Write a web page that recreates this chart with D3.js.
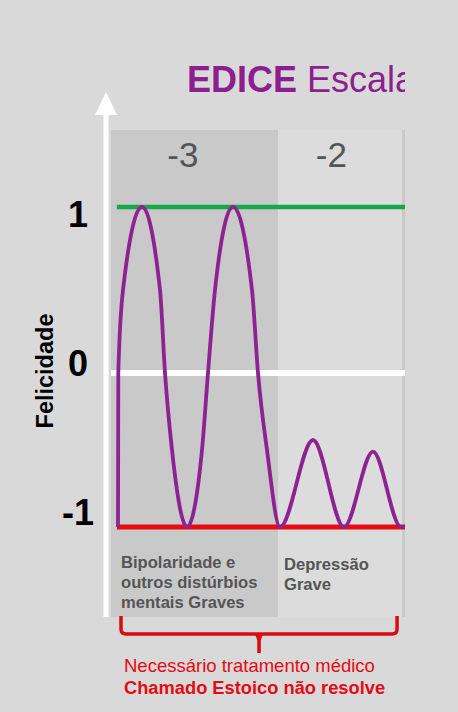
<!DOCTYPE html>
<html>
<head>
<meta charset="utf-8">
<script src="https://cdn.jsdelivr.net/npm/d3@7"></script>
<style>
html,body{margin:0;padding:0;background:#d9d9d9;}
svg{display:block;}
text{font-family:"Liberation Sans",Arial,Helvetica,sans-serif;}
</style>
</head>
<body>
<svg id="chart" width="458" height="712"></svg>
<script>
// ---- data ----
const regionNames = ["-3", "-2", "-1"];
const regionStart = [0, 5.68, 9.9];
const regionEnd = [5.68, 9.9, 12];
const regionLabels = [["Bipolaridade e", "outros distúrbios", "mentais Graves"], ["Depressão", "Grave"], []];
const yTicks = [1, 0, -1];
const levelValues = [1, 0, -1];
const levelStart = [0.2, 0, 0.2];
const waveT = [0.238, 0.248, 0.408, 1.054, 1.667, 1.837, 2.075, 2.585, 3.095, 3.299, 3.537, 4.150, 4.796, 5.000, 5.306, 5.748, 6.871, 7.925, 8.912, 9.864, 10.1];
const waveV = [-1, 0, 0.5, 1, 0.5, 0, -0.5, -1, -0.5, 0, 0.5, 1, 0.5, 0, -0.5, -1, -0.435, -1, -0.51, -1, -1];
const titleBold = "EDICE";
const titleRest = "Escala";
const yLabel = "Felicidade";
const noteLines = ["Necessário tratamento médico", "Chamado Estoico não resolve"];

// ---- layout ----
const W = 458, H = 712;
const clipRight = 405;
const regionTop = 130, regionBottom = 617;
const regionFill = ["#c9c9c9", "#dcdcdc", "#c9c9c9"];
const levelColor = ["#14a84a", "#ffffff", "#ea0a10"];
const levelWidth = [4.5, 6, 5];

const svg = d3.select("#chart");
svg.append("rect").attr("width", W).attr("height", H).attr("fill", "#d9d9d9");

svg.append("defs").append("clipPath").attr("id", "clip")
  .append("rect").attr("x", 0).attr("y", 0).attr("width", clipRight).attr("height", H);

const g = svg.append("g").attr("clip-path", "url(#clip)");

const x = d3.scaleLinear().domain([0, 10]).range([111, 405]);
const y = d3.scaleLinear().domain([-1, 0, 1]).range([527, 373, 207]);
const yLab = d3.scaleLinear().domain([-1, 1]).range([525, 227]);

// regions
g.selectAll("rect.region").data(regionNames).enter().append("rect")
  .attr("class", "region")
  .attr("x", (d, i) => x(regionStart[i]))
  .attr("y", regionTop)
  .attr("width", (d, i) => x(regionEnd[i]) - x(regionStart[i]))
  .attr("height", regionBottom - regionTop)
  .attr("fill", (d, i) => regionFill[i]);

// region header labels
g.selectAll("text.head").data(regionNames).enter().append("text")
  .attr("class", "head")
  .attr("x", (d, i) => x(regionStart[i]) + 0.43 * (x(regionEnd[i]) - x(regionStart[i])))
  .attr("y", 167)
  .attr("text-anchor", "middle")
  .attr("font-size", 35)
  .attr("fill", "#555555")
  .text(d => d);

// region description labels
regionLabels.forEach((lines, i) => {
  const lx = x(regionStart[i]) + (i === 0 ? 10 : 6);
  const t = g.append("text")
    .attr("x", lx)
    .attr("y", 0)
    .attr("font-size", 16.6)
    .attr("font-weight", "bold")
    .attr("fill", "#555555");
  lines.forEach((ln, j) => {
    t.append("tspan").attr("x", lx)
      .attr("y", (i === 0 ? 568 : 570) + j * 20).text(ln);
  });
});

// title
const title = g.append("text").attr("x", 187).attr("y", 92)
  .attr("font-size", 36).attr("fill", "#8c1f8f");
title.append("tspan").attr("font-weight", "bold").text(titleBold);
title.append("tspan").text(" " + titleRest);

// level lines
g.selectAll("line.level").data(levelValues).enter().append("line")
  .attr("class", "level")
  .attr("x1", (d, i) => x(levelStart[i]))
  .attr("x2", x(10.5))
  .attr("y1", d => y(d)).attr("y2", d => y(d))
  .attr("stroke", (d, i) => levelColor[i])
  .attr("stroke-width", (d, i) => levelWidth[i]);

// wave
const pts = waveT.map((t, i) => [t, waveV[i]]);
const line = d3.line().x(d => x(d[0])).y(d => y(d[1])).curve(d3.curveMonotoneX);
g.append("path").attr("d", line(pts))
  .attr("fill", "none").attr("stroke", "#8c2391").attr("stroke-width", 3.8)
  .attr("stroke-linejoin", "round");

// y axis with arrow
const axX = 106;
svg.append("line").attr("x1", axX).attr("x2", axX).attr("y1", 112).attr("y2", regionBottom)
  .attr("stroke", "#ffffff").attr("stroke-width", 5);
svg.append("path").attr("d", `M${axX},92 L${axX + 11},115 L${axX - 11},115 Z`).attr("fill", "#ffffff");

// y tick labels
svg.selectAll("text.ytick").data(yTicks).enter().append("text")
  .attr("class", "ytick")
  .attr("x", 78).attr("y", d => yLab(d))
  .attr("text-anchor", "middle")
  .attr("font-size", 36).attr("font-weight", "bold").attr("fill", "#000")
  .text(d => String(d));

// y label
svg.append("text").attr("transform", "translate(53,371) rotate(-90)")
  .attr("text-anchor", "middle").attr("font-size", 23.5).attr("font-weight", "bold")
  .attr("fill", "#000").text(yLabel);

// bracket
const bL = x(regionStart[0]) + 10, bR = x(regionEnd[1]) - 5, bM = (bL + bR) / 2;
const bTop = 616, bY = 634, r = 5;
svg.append("path")
  .attr("d", `M${bL},${bTop} V${bY - r} Q${bL},${bY} ${bL + r},${bY} H${bR - r} Q${bR},${bY} ${bR},${bY - r} V${bTop}`)
  .attr("fill", "none").attr("stroke", "#dd0a12").attr("stroke-width", 3.5);
svg.append("path")
  .attr("d", `M${bM - 4},${bY} L${bM + 4},${bY} L${bM + 1.8},${bY + 6} L${bM + 1.8},${bY + 19} L${bM - 1.8},${bY + 19} L${bM - 1.8},${bY + 6} Z`)
  .attr("fill", "#dd0a12");

// notes
svg.append("text").attr("x", 124).attr("y", 672).attr("font-size", 18.5)
  .attr("fill", "#e30b13").text(noteLines[0]);
svg.append("text").attr("x", 124).attr("y", 694).attr("font-size", 18.3)
  .attr("font-weight", "bold").attr("fill", "#e30b13").text(noteLines[1]);
</script>
</body>
</html>
